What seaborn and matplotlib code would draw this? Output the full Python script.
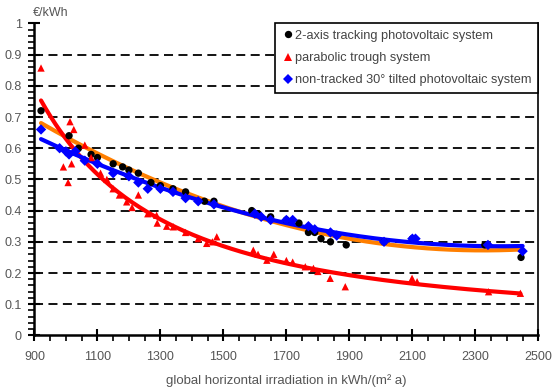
import numpy as np
import pandas as pd
import matplotlib
matplotlib.use("Agg")
import matplotlib.pyplot as plt
import seaborn as sns
from matplotlib.ticker import FixedLocator, MultipleLocator

# irradiation (kWh/(m² a)) and cost (€/kWh)
track_x = [921, 1010, 1040, 1080, 1100, 1150, 1180, 1200, 1230, 1270, 1300, 1340,
           1380, 1440, 1470, 1590, 1610, 1650, 1700, 1740, 1770, 1790, 1810, 1840,
           1890, 2010, 2100, 2330, 2445]
track_y = [0.72, 0.64, 0.60, 0.58, 0.57, 0.55, 0.54, 0.53, 0.52, 0.49, 0.48, 0.47,
           0.46, 0.43, 0.43, 0.40, 0.39, 0.38, 0.37, 0.36, 0.33, 0.33, 0.31, 0.30,
           0.29, 0.30, 0.31, 0.29, 0.25]

trough_x = [921, 992, 1007, 1013, 1018, 1025, 1060, 1080, 1110, 1130, 1150, 1170,
            1193, 1210, 1230, 1260, 1288, 1290, 1320, 1341, 1380, 1420, 1447, 1465,
            1479, 1595, 1610, 1638, 1660, 1700, 1720, 1760, 1786, 1800, 1839, 1887,
            2099, 2115, 2342, 2443]
trough_y = [0.857, 0.54, 0.49, 0.685, 0.55, 0.66, 0.61, 0.57, 0.52, 0.50, 0.47, 0.45,
            0.428, 0.41, 0.45, 0.39, 0.385, 0.36, 0.35, 0.348, 0.33, 0.31, 0.295, 0.30,
            0.316, 0.273, 0.26, 0.241, 0.26, 0.24, 0.235, 0.22, 0.215, 0.205, 0.183,
            0.156, 0.183, 0.172, 0.14, 0.135]

fixed_x = [921, 980, 1000, 1010, 1030, 1060, 1100, 1150, 1200, 1230, 1260, 1300,
           1340, 1380, 1420, 1470, 1600, 1620, 1650, 1700, 1720, 1770, 1790, 1840,
           1860, 2010, 2100, 2110, 2340, 2450]
fixed_y = [0.66, 0.60, 0.59, 0.58, 0.59, 0.56, 0.55, 0.52, 0.51, 0.49, 0.47, 0.47,
           0.46, 0.44, 0.43, 0.42, 0.39, 0.38, 0.37, 0.37, 0.37, 0.35, 0.34, 0.33,
           0.32, 0.30, 0.31, 0.31, 0.29, 0.27]

labels = ["2-axis tracking photovoltaic system",
          "parabolic trough system",
          "non-tracked 30° tilted photovoltaic system"]

x_ticks = [900, 1100, 1300, 1500, 1700, 1900, 2100, 2300, 2500]
y_ticks = [0, 0.1, 0.2, 0.3, 0.4, 0.5, 0.6, 0.7, 0.8, 0.9, 1]
y_ticklabels = ["0", "0.1", "0.2", "0.3", "0.4", "0.5", "0.6", "0.7", "0.8", "0.9", "1"]

df = pd.concat([
    pd.DataFrame({"x": track_x, "y": track_y, "system": labels[0]}),
    pd.DataFrame({"x": trough_x, "y": trough_y, "system": labels[1]}),
    pd.DataFrame({"x": fixed_x, "y": fixed_y, "system": labels[2]}),
])

sns.set_style("white")
plt.rcParams["font.family"] = ["Liberation Sans", "DejaVu Sans"]
plt.rcParams["font.size"] = 9

fig = plt.figure(figsize=(5.55, 3.9), dpi=100)
ax = fig.add_axes([0.062, 0.140, 0.908, 0.800])

# trend lines: quadratic for the PV systems, curved power law for the trough
trend_colors = {labels[0]: "#ff7f00", labels[1]: "#ff0000", labels[2]: "#0000ff"}
for name, grp in df.groupby("system", sort=False):
    xs = np.linspace(grp["x"].min(), grp["x"].max(), 200)
    if name == labels[1]:
        coef = np.polyfit(np.log(grp["x"]), np.log(grp["y"]), 2)
        ys = np.exp(np.polyval(coef, np.log(xs)))
    else:
        coef = np.polyfit(grp["x"] / 1000, grp["y"], 2)
        ys = np.polyval(coef, xs / 1000)
    sns.lineplot(x=xs, y=ys, color=trend_colors[name],
                 linewidth=3, ax=ax, legend=False, zorder=2)

palette = {labels[0]: "black", labels[1]: "#ff0000", labels[2]: "#0000ff"}
markers = {labels[0]: "o", labels[1]: "^", labels[2]: "D"}
sns.scatterplot(data=df, x="x", y="y", hue="system", style="system",
                palette=palette, markers=markers, s=28, linewidth=0,
                ax=ax, zorder=3)

ax.set_xlim(900, 2500)
ax.set_ylim(0, 1)
ax.xaxis.set_major_locator(FixedLocator(x_ticks))
ax.xaxis.set_minor_locator(MultipleLocator(50))
ax.set_yticks(y_ticks)
ax.set_yticklabels(y_ticklabels)
ax.yaxis.set_minor_locator(MultipleLocator(0.02))
ax.tick_params(which="major", direction="inout", length=8, width=1.5,
               colors="black", labelcolor="#555555", labelsize=9)
ax.tick_params(which="minor", direction="out", length=4, width=1.2,
               colors="black")
ax.tick_params(axis="x", which="both", bottom=True, pad=7)
ax.tick_params(axis="y", which="both", left=True, pad=5)

for yv in y_ticks[1:-1]:
    ax.axhline(yv, color="black", linestyle=(0, (5, 3)), linewidth=1.3, zorder=1)

for side in ["left", "bottom", "right"]:
    ax.spines[side].set_visible(True)
    ax.spines[side].set_color("black")
    ax.spines[side].set_linewidth(1.8)
ax.spines["right"].set_linewidth(1.2)
ax.spines["top"].set_visible(False)

ax.set_xlabel("global horizontal irradiation in kWh/(m² a)", color="#555555",
              fontsize=9.5, labelpad=8)
ax.set_ylabel("")
fig.text(0.06, 0.966, "€/kWh", color="#555555", fontsize=9, ha="left",
         va="center")

leg = ax.legend(loc="upper right", bbox_to_anchor=(1.0, 1.0), frameon=True,
                fancybox=False, edgecolor="black", framealpha=1,
                fontsize=9.2, handletextpad=0.1, borderpad=0.5,
                labelspacing=0.8, markerscale=1.0, handlelength=1.0,
                borderaxespad=0)
leg.get_frame().set_linewidth(1.2)
for t in leg.get_texts():
    t.set_color("#444444")

fig.savefig("out.png", dpi=100)
